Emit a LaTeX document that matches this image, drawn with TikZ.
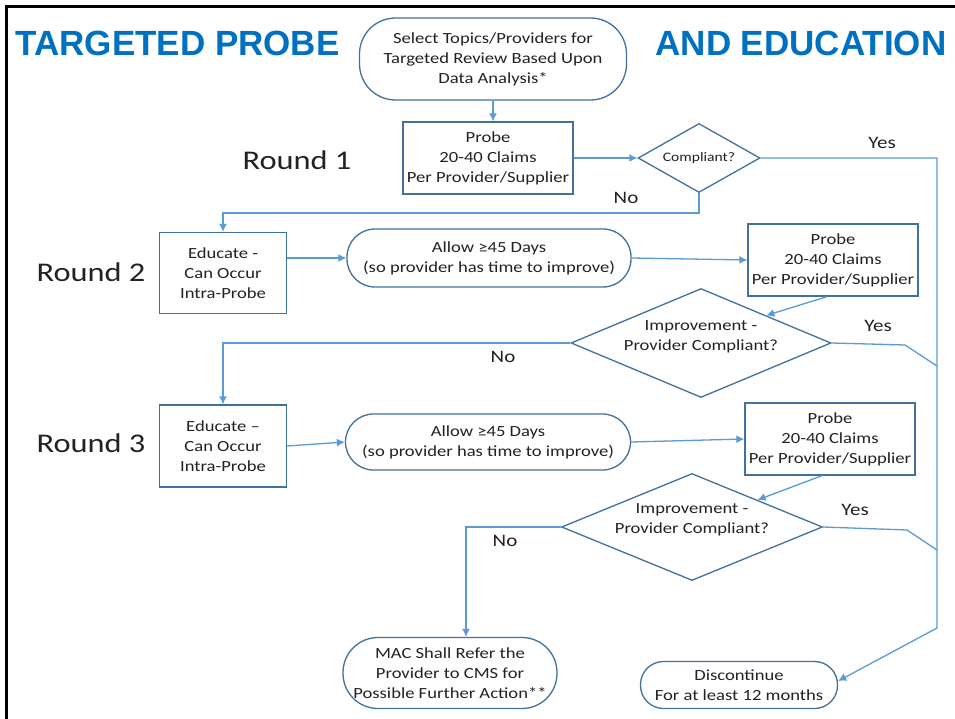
\documentclass[tikz,border=0pt]{standalone}
\usepackage{fontspec}
\setmainfont{Carlito}
\newfontfamily\bodyfont[FakeStretch=1.2]{Carlito}
\newfontfamily\titlefont{Liberation Sans}
\usetikzlibrary{shapes.geometric,arrows.meta}
\definecolor{titleblue}{HTML}{0070C0}
\definecolor{linkblue}{HTML}{5B9BD5}
\definecolor{boxline}{HTML}{41719C}
\definecolor{ink}{HTML}{222222}
\begin{document}
\begin{tikzpicture}[x=1pt,y=-1pt,
  every node/.style={text=ink},
  body/.style={font=\bodyfont\fontsize{15.5}{20}\selectfont, align=center},
  procbox/.style={body, draw=boxline, line width=1.3pt, rectangle, inner sep=0pt},
  pill/.style={body, draw=boxline, line width=1.3pt, rectangle, inner sep=0pt},
  decision/.style={body, draw=boxline, line width=1.3pt, diamond, inner sep=0pt},
  roundlabel/.style={font=\bodyfont\fontsize{27}{30}\selectfont},
  answer/.style={font=\bodyfont\fontsize{17.5}{20}\selectfont},
  heading/.style={font=\titlefont\bfseries\fontsize{35}{40}\selectfont, text=titleblue},
  link/.style={draw=linkblue, line width=1.3pt},
  arr/.style={link, -{Latex[length=8pt,width=8pt]}}
]
\useasboundingbox (0,0) rectangle (955,719);
\fill[white] (0,0) rectangle (955,719);

% outer frame (top and left rules)
\draw[black, line width=3pt] (6.5,719) -- (6.5,6.5) -- (955,6.5);

% headings
\node[heading, anchor=west] (hleft) at (12,43) {TARGETED PROBE};
\node[heading, anchor=east] (hright) at (950,43) {AND EDUCATION};

% round labels
\node[roundlabel] (r1) at (297,160) {Round 1};
\node[roundlabel] (r2) at (91,272) {Round 2};
\node[roundlabel] (r3) at (91,443) {Round 3};

% process nodes
\node[pill, minimum width=267pt, minimum height=82pt, rounded corners=36pt] (start) at (493,59)
  {Select Topics/Providers for\\Targeted Review Based Upon\\Data Analysis*};
\node[procbox, minimum width=170pt, minimum height=72pt] (probe1) at (488,158)
  {Probe\\20-40 Claims\\Per Provider/Supplier};
\node[decision, minimum width=122pt, minimum height=69pt, shape aspect=1.77,
  font=\bodyfont\fontsize{13}{16}\selectfont] (c1) at (699,158) {Compliant?};

\node[procbox, minimum width=127pt, minimum height=81pt] (edu2) at (223,273)
  {Educate -\\Can Occur\\Intra-Probe};
\node[pill, minimum width=284pt, minimum height=58pt, rounded corners=28pt] (allow2) at (489,258)
  {Allow ≥45 Days\\(so provider has time to improve)};
\node[procbox, minimum width=170pt, minimum height=72pt] (probe2) at (833,260)
  {Probe\\20-40 Claims\\Per Provider/Supplier};
\node[decision, minimum width=260pt, minimum height=109pt, shape aspect=2.39] (d2) at (701,343) {};
\node[body] (d2t) at (701,337) {Improvement -\\Provider Compliant?};

\node[procbox, minimum width=127pt, minimum height=82pt] (edu3) at (223,446)
  {Educate –\\Can Occur\\Intra-Probe};
\node[pill, minimum width=285pt, minimum height=56pt, rounded corners=28pt] (allow3) at (488,442)
  {Allow ≥45 Days\\(so provider has time to improve)};
\node[procbox, minimum width=170pt, minimum height=72pt] (probe3) at (830,439)
  {Probe\\20-40 Claims\\Per Provider/Supplier};
\node[decision, minimum width=261pt, minimum height=107pt, shape aspect=2.44] (d3) at (692,527) {};
\node[body] (d3t) at (692,520) {Improvement -\\Provider Compliant?};

\node[pill, minimum width=214pt, minimum height=71pt, rounded corners=35pt] (mac) at (450,673)
  {MAC Shall Refer the\\Provider to CMS for\\Possible Further Action**};
\node[pill, minimum width=197pt, minimum height=47pt, rounded corners=23pt] (disc) at (739,685)
  {Discontinue\\For at least 12 months};

% routing points
\coordinate (yesTop) at (937,158);
\coordinate (yesBend) at (937,628);
\coordinate (no1) at (699,213);
\coordinate (no1b) at (223,213);
\coordinate (no2) at (223,343);
\coordinate (yes2a) at (905,345);
\coordinate (yes2b) at (937,366);
\coordinate (no3) at (466,527);
\coordinate (yes3a) at (907,530);
\coordinate (yes3b) at (937,550);

% connectors
\draw[arr] (start.south) -- (start.south |- probe1.north);
\draw[arr] (probe1.east) -- (c1.west);
\draw[arr] (c1.east) -- (yesTop) -- (yesBend) -- ([yshift=4pt]disc.east);
\draw[arr] (c1.south) -- (no1) -- (no1b) -- (edu2.north);

\draw[arr] (allow2.west -| edu2.east) -- (allow2.west);
\draw[arr] (allow2.east) -- (probe2.west);
\draw[arr] ([xshift=-6pt]probe2.south) -- (d2.north east);
\draw[link] (d2.east) -- (yes2a) -- (yes2b);
\draw[arr] (d2.west) -- (no2) -- (edu3.north);

\draw[arr] (edu3.east) -- (allow3.west);
\draw[arr] (allow3.east) -- (probe3.west);
\draw[arr] ([xshift=-8pt]probe3.south) -- (d3.north east);
\draw[link] (d3.east) -- (yes3a) -- (yes3b);
\draw[arr] (d3.west) -- (no3) -- (no3 |- mac.north);

% branch labels
\node[answer] (y1) at (882,143) {Yes};
\node[answer] (n1) at (626,198) {No};
\node[answer] (y2) at (878,326) {Yes};
\node[answer] (n2) at (503,357) {No};
\node[answer] (y3) at (855,510) {Yes};
\node[answer] (n3) at (505,541) {No};
\end{tikzpicture}
\end{document}
